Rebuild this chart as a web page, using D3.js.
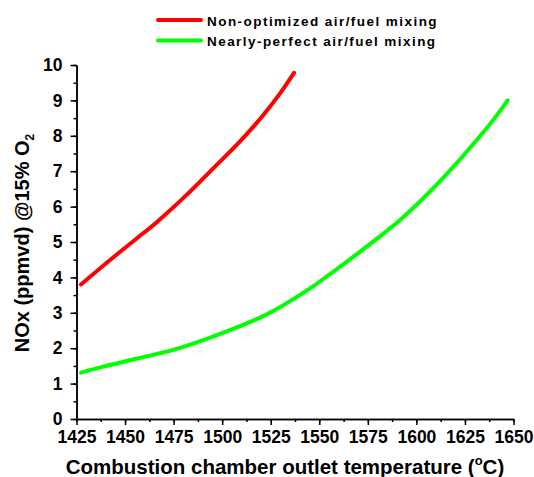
<!DOCTYPE html>
<html><head><meta charset="utf-8">
<script src="https://cdn.jsdelivr.net/npm/d3@7"></script>
<style>body{margin:0;background:#fff}svg{display:block}text{font-family:"Liberation Sans",Arial,sans-serif;font-weight:bold;fill:#000}</style>
</head><body>
<svg id="c" width="534" height="477"></svg>
<script>
const seriesNames = ["Non-optimized air/fuel mixing", "Nearly-perfect air/fuel mixing"];
const seriesColors = ["#ff0000", "#00ff00"];
const redT = [1427.3, 1444.0, 1456.0, 1466.3, 1481.7, 1495.4, 1509.2, 1521.2, 1529.8, 1537.0];
const redV = [3.80, 4.57, 5.10, 5.56, 6.33, 7.08, 7.84, 8.59, 9.20, 9.78];
const greenT = [1427.3, 1438.8, 1450.8, 1462.8, 1476.6, 1490.3, 1504.0, 1517.8, 1526.3, 1539.1, 1545.3, 1557.2, 1574.4, 1591.6, 1608.7, 1625.9, 1639.6, 1647.0];
const greenV = [1.31, 1.48, 1.64, 1.79, 1.98, 2.23, 2.51, 2.82, 3.05, 3.47, 3.69, 4.16, 4.87, 5.62, 6.52, 7.55, 8.45, 9.0];
const xTicks = [1425, 1450, 1475, 1500, 1525, 1550, 1575, 1600, 1625, 1650];
const yTicks = [0, 1, 2, 3, 4, 5, 6, 7, 8, 9, 10];

const svg = d3.select("#c");
const x = d3.scaleLinear().domain([1425, 1650]).range([76.5, 513.5]);
const y = d3.scaleLinear().domain([0, 10]).range([419, 65]);

// X axis
const gx = svg.append("g").attr("transform", `translate(0,${y(0)})`);
gx.call(d3.axisBottom(x).tickValues(d3.range(1425, 1651, 12.5)).tickFormat("").tickSize(3).tickSizeOuter(0));
gx.append("g").call(d3.axisBottom(x).tickValues(xTicks).tickSize(6).tickSizeOuter(0).tickFormat(d3.format("d")));
gx.selectAll("path").attr("stroke", "#000").attr("stroke-width", 1.5);
gx.selectAll("line").attr("stroke", "#000").attr("stroke-width", 1.5);
gx.selectAll("text").style("font-size", "17.5px").attr("dy", "0.86em").attr("fill", "#000");

// Y axis
const gy = svg.append("g").attr("transform", `translate(${x(1425)},0)`);
gy.call(d3.axisLeft(y).tickValues(d3.range(0, 10.01, 0.5)).tickFormat("").tickSize(3).tickSizeOuter(0));
gy.append("g").call(d3.axisLeft(y).tickValues(yTicks).tickSize(6).tickSizeOuter(0).tickFormat(d3.format("d")));
gy.selectAll("path").attr("stroke", "#000").attr("stroke-width", 1.5);
gy.selectAll("line").attr("stroke", "#000").attr("stroke-width", 1.5);
gy.selectAll("text").style("font-size", "17.5px").attr("x", -14).attr("fill", "#000");

// Lines
const line = d3.line().x(d => x(d[0])).y(d => y(d[1])).curve(d3.curveCatmullRom);
const series = [d3.zip(redT, redV), d3.zip(greenT, greenV)];
series.forEach((s, i) => {
  svg.append("path").datum(s).attr("d", line).attr("fill", "none")
    .attr("stroke", seriesColors[i]).attr("stroke-width", 4).attr("stroke-linecap", "round");
});

// Legend
seriesNames.forEach((n, i) => {
  const ly = 20 + i * 20.5;
  svg.append("line").attr("x1", 158).attr("x2", 201).attr("y1", ly).attr("y2", ly)
    .attr("stroke", seriesColors[i]).attr("stroke-width", 4).attr("stroke-linecap", "round");
  svg.append("text").attr("x", 207).attr("y", ly + 5.5).style("font-size", "13.5px")
    .style("letter-spacing", "1.45px").text(n);
});

// Axis titles
const xt = svg.append("text").attr("x", 285).attr("y", 474).attr("text-anchor", "middle").style("font-size", "20.5px");
xt.append("tspan").text("Combustion chamber outlet temperature (");
xt.append("tspan").text("o").style("font-size", "13px").attr("dy", -9);
xt.append("tspan").text("C)").attr("dy", 9);

const yt = svg.append("text").attr("transform", "translate(29,243) rotate(-90)").attr("text-anchor", "middle").style("font-size", "20px");
yt.append("tspan").text("NOx (ppmvd) @15% O");
yt.append("tspan").text("2").style("font-size", "12px").attr("dy", 5);
</script>
</body></html>
